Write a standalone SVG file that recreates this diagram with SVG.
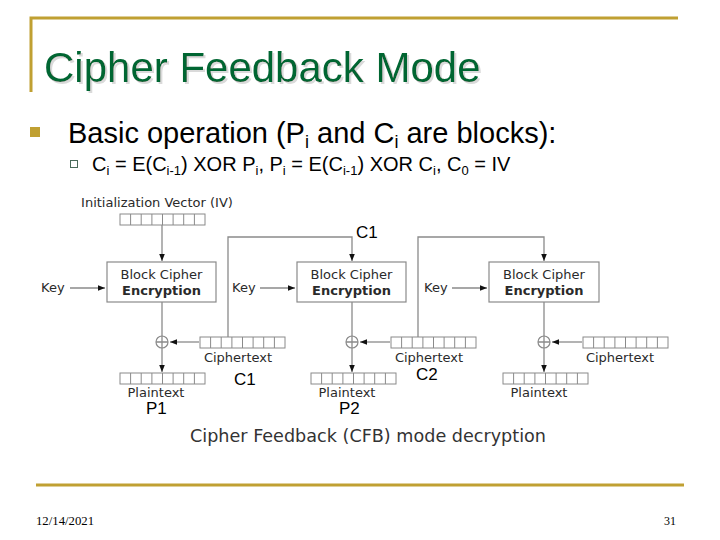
<svg xmlns="http://www.w3.org/2000/svg" width="720" height="540" viewBox="0 0 720 540">
<style>
.gold{stroke:#C0A032;stroke-width:3;fill:none}
.title{font-family:"Liberation Sans",Arial,sans-serif;font-size:42px}
.body{font-family:"Liberation Sans",Arial,sans-serif;fill:#000}
.dv{font-family:"DejaVu Sans",Verdana,sans-serif;fill:#2a2a2a;font-size:13px}
.cap{font-family:"DejaVu Sans",Verdana,sans-serif;fill:#333;font-size:17.6px}
.lbl{font-family:"Liberation Sans",Arial,sans-serif;font-size:17px;fill:#000}
.box{fill:#fff;stroke:#8a8a8a;stroke-width:1.2}
.reg{fill:#fff;stroke:#8a8a8a;stroke-width:1}
.ln{fill:none;stroke:#8a8a8a;stroke-width:1.3}
.foot{font-family:"Liberation Serif","Times New Roman",serif;font-size:12px;fill:#000}
</style>
<defs>
<filter id="shadow" x="-5%" y="-20%" width="115%" height="150%">
<feOffset in="SourceAlpha" dx="2" dy="2" result="off"/>
<feFlood flood-color="#dadada"/>
<feComposite in2="off" operator="in" result="sh"/>
<feMerge><feMergeNode in="sh"/><feMergeNode in="SourceGraphic"/></feMerge>
</filter>
<marker id="ah" markerWidth="8" markerHeight="8" refX="7" refY="4" orient="auto" markerUnits="userSpaceOnUse">
<path d="M0,1.2 L7,4 L0,6.8 Z" fill="#111"/>
</marker>
<g id="register">
<rect class="reg" x="0" y="0" width="85" height="11"/>
<path class="reg" d="M10.6,0V11M21.2,0V11M31.9,0V11M42.5,0V11M53.1,0V11M63.7,0V11M74.4,0V11"/>
</g>
</defs>
<rect width="720" height="540" fill="#fff"/>

<g id="frame">
<path class="gold" d="M31,92 V18 H678"/>
<path class="gold" d="M36,485 H684"/>
</g>

<g id="title">
<text class="title" x="44" y="82" fill="#006633" filter="url(#shadow)">Cipher Feedback Mode</text>
</g>

<g id="bullets">
<rect x="30" y="127" width="10" height="10" fill="#C0A032"/>
<text class="body" x="68" y="143" font-size="29">Basic operation (P<tspan font-size="18" dy="5">i</tspan><tspan dy="-5"> and C</tspan><tspan font-size="18" dy="5">i</tspan><tspan dy="-5"> are blocks):</tspan></text>
<rect x="70.5" y="160.5" width="7" height="7" fill="none" stroke="#4a6a5a" stroke-width="1"/>
<text class="body" x="92" y="171" font-size="20">C<tspan font-size="13" dy="4">i</tspan><tspan dy="-4"> = E(C</tspan><tspan font-size="13" dy="4">i-1</tspan><tspan dy="-4">) XOR P</tspan><tspan font-size="13" dy="4">i</tspan><tspan dy="-4">, P</tspan><tspan font-size="13" dy="4">i</tspan><tspan dy="-4"> = E(C</tspan><tspan font-size="13" dy="4">i-1</tspan><tspan dy="-4">) XOR C</tspan><tspan font-size="13" dy="4">i</tspan><tspan dy="-4">, C</tspan><tspan font-size="13" dy="4">0</tspan><tspan dy="-4"> = IV</tspan></text>
</g>

<g id="connectors">
<line class="ln" x1="162" y1="225" x2="162" y2="261" marker-end="url(#ah)"/>
<line class="ln" x1="70" y1="288" x2="105" y2="288" marker-end="url(#ah)"/>
<line class="ln" x1="260" y1="288" x2="295" y2="288" marker-end="url(#ah)"/>
<line class="ln" x1="452" y1="288" x2="487" y2="288" marker-end="url(#ah)"/>
<path class="ln" d="M228,337 V237 H352 V261" marker-end="url(#ah)"/>
<path class="ln" d="M418,337 V237 H544 V261" marker-end="url(#ah)"/>
<line class="ln" x1="162" y1="302" x2="162" y2="372" marker-end="url(#ah)"/>
<line class="ln" x1="352" y1="302" x2="352" y2="372" marker-end="url(#ah)"/>
<line class="ln" x1="544" y1="302" x2="544" y2="372" marker-end="url(#ah)"/>
<line class="ln" x1="199" y1="342" x2="170" y2="342" marker-end="url(#ah)"/>
<line class="ln" x1="390" y1="342" x2="360" y2="342" marker-end="url(#ah)"/>
<line class="ln" x1="582" y1="342" x2="552" y2="342" marker-end="url(#ah)"/>
</g>

<g id="iv">
<text class="dv" x="157" y="207" text-anchor="middle">Initialization Vector (IV)</text>
<use href="#register" x="120" y="214"/>
</g>

<g id="key1"><text class="dv" x="41" y="292">Key</text></g>
<g id="key2"><text class="dv" x="232" y="292">Key</text></g>
<g id="key3"><text class="dv" x="424" y="292">Key</text></g>

<g id="enc1">
<rect class="box" x="107" y="262" width="109" height="40"/>
<text class="dv" x="161.5" y="279" text-anchor="middle">Block Cipher</text>
<text class="dv" x="161.5" y="295" text-anchor="middle" font-weight="bold">Encryption</text>
</g>
<g id="enc2">
<rect class="box" x="297" y="262" width="109" height="40"/>
<text class="dv" x="351.5" y="279" text-anchor="middle">Block Cipher</text>
<text class="dv" x="351.5" y="295" text-anchor="middle" font-weight="bold">Encryption</text>
</g>
<g id="enc3">
<rect class="box" x="489" y="262" width="110" height="40"/>
<text class="dv" x="544" y="279" text-anchor="middle">Block Cipher</text>
<text class="dv" x="544" y="295" text-anchor="middle" font-weight="bold">Encryption</text>
</g>

<g id="xor1"><circle class="box" cx="162" cy="342" r="6"/><path class="ln" d="M156,342H168M162,336V348" stroke-width="1"/></g>
<g id="xor2"><circle class="box" cx="352" cy="342" r="6"/><path class="ln" d="M346,342H358M352,336V348" stroke-width="1"/></g>
<g id="xor3"><circle class="box" cx="544" cy="342" r="6"/><path class="ln" d="M538,342H550M544,336V348" stroke-width="1"/></g>

<g id="ct1"><use href="#register" x="200" y="337"/><text class="dv" x="238" y="362" text-anchor="middle">Ciphertext</text></g>
<g id="ct2"><use href="#register" x="391" y="337"/><text class="dv" x="429" y="362" text-anchor="middle">Ciphertext</text></g>
<g id="ct3"><use href="#register" x="583" y="337"/><text class="dv" x="620" y="362" text-anchor="middle">Ciphertext</text></g>

<g id="pt1"><use href="#register" x="120" y="373"/><text class="dv" x="156" y="397" text-anchor="middle">Plaintext</text></g>
<g id="pt2"><use href="#register" x="311" y="373"/><text class="dv" x="347" y="397" text-anchor="middle">Plaintext</text></g>
<g id="pt3"><use href="#register" x="503" y="373"/><text class="dv" x="539" y="397" text-anchor="middle">Plaintext</text></g>

<g id="labels">
<text class="lbl" x="356" y="238">C1</text>
<text class="lbl" x="234" y="385">C1</text>
<text class="lbl" x="416" y="380">C2</text>
<text class="lbl" x="146" y="414">P1</text>
<text class="lbl" x="339" y="414">P2</text>
</g>

<g id="caption">
<text class="cap" x="190" y="442">Cipher Feedback (CFB) mode decryption</text>
</g>

<g id="footer">
<text class="foot" x="36" y="525" textLength="58" lengthAdjust="spacingAndGlyphs">12/14/2021</text>
<text class="foot" x="664" y="525">31</text>
</g>
</svg>
